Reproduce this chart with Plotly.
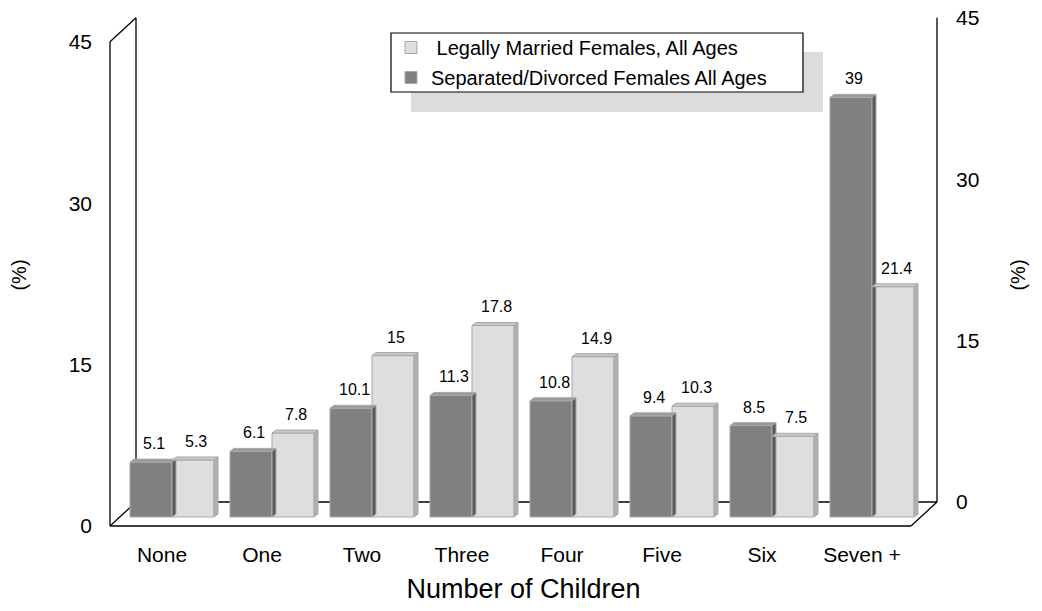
import plotly.graph_objects as go

# ---------------- data ----------------
categories = ["None", "One", "Two", "Three", "Four", "Five", "Six", "Seven +"]
married = [5.3, 7.8, 15, 17.8, 14.9, 10.3, 7.5, 21.4]
separated = [5.1, 6.1, 10.1, 11.3, 10.8, 9.4, 8.5, 39]
y_ticks = [0, 15, 30, 45]
name_married = " Legally Married Females, All Ages"
name_separated = "Separated/Divorced Females All Ages"

# ---------------- geometry (layout, page pixels) ----------------
W, H = 1042, 611
L, R, T, B = 100, 947, 10, 540          # plot area in pixels
PX_X = 100.0                             # pixels per category
PX_Y = 10.76                             # pixels per percent
C0 = 172                                 # pixel centre of first category pair
LABEL_SHIFT = 0.10                       # category labels sit slightly left
Y0 = 517                                 # pixel of bar base
XMIN, XMAX = (L - C0) / PX_X, (R - C0) / PX_X
YMIN, YMAX = -(B - Y0) / PX_Y, (Y0 - T) / PX_Y
FRONT = -(526 - Y0) / PX_Y               # front plane shift (main y units)
BACK = (Y0 - 502) / PX_Y                 # back plane shift
XF = (110 - C0) / PX_X                   # front-left frame x
XB = (937 - C0) / PX_X                   # back-right frame x
DXA = 26 / PX_X                          # frame depth in x
BW = 0.42                                # bar width
DX, DY = 4 / PX_X, 3 / PX_Y              # bar depth

DARK, LIGHT = "#808080", "#dedede"
FONT = "Liberation Sans, Arial, sans-serif"

idx = list(range(len(categories)))

fig = go.Figure()


def add_series(vals, offset, color, top_col, side_col, name, rank):
    fig.add_trace(go.Bar(
        x=idx, y=vals, width=BW, offset=offset, name=name, legendrank=rank,
        legendgroup=name,
        marker=dict(color=color, line=dict(color="#a8a8a8", width=1)),
        hoverinfo="skip"))
    tx, ty, sx, sy = [], [], [], []
    for i, v in zip(idx, vals):
        x0 = i + offset
        x1 = x0 + BW
        tx += [x0, x0 + DX, x1 + DX, x1, x0, None]
        ty += [v, v + DY, v + DY, v, v, None]
        sx += [x1, x1, x1 + DX, x1 + DX, x1, None]
        sy += [0, v, v + DY, DY, 0, None]
    fig.add_trace(go.Scatter(x=tx, y=ty, fill="toself", fillcolor=top_col, mode="lines",
                             line=dict(color="#a8a8a8", width=1), showlegend=False,
                             hoverinfo="skip"))
    fig.add_trace(go.Scatter(x=sx, y=sy, fill="toself", fillcolor=side_col, mode="lines",
                             line=dict(color="#a8a8a8", width=1), showlegend=False,
                             hoverinfo="skip"))
    for i, v in zip(idx, vals):
        fig.add_annotation(x=i + offset + BW / 2 + 0.03, y=v, text=f"{v:g}",
                           showarrow=False, yanchor="bottom", yshift=8,
                           font=dict(size=16, color="black", family=FONT))


add_series(separated, -BW, DARK, "#9a9a9a", "#5a5a5a", name_separated, 2)
add_series(married, 0, LIGHT, "#c8c8c8", "#b0b0b0", name_married, 1)

# invisible traces so the extra axes are drawn
fig.add_trace(go.Scatter(x=[XF] * len(y_ticks), y=y_ticks, yaxis="y2", mode="markers",
                         marker=dict(opacity=0), showlegend=False, hoverinfo="skip"))
fig.add_trace(go.Scatter(x=[XB] * len(y_ticks), y=y_ticks, yaxis="y3", mode="markers",
                         marker=dict(opacity=0), showlegend=False, hoverinfo="skip"))
fig.add_trace(go.Scatter(x=idx, y=[0] * len(idx), xaxis="x2", mode="markers",
                         marker=dict(opacity=0), showlegend=False, hoverinfo="skip"))

# frame lines
top = max(y_ticks)
frame = [
    (XF, FRONT, XF, top + FRONT),
    (XF + DXA, BACK, XF + DXA, top + BACK),
    (XF, top + FRONT, XF + DXA, top + BACK),
    (XF, FRONT, XF + DXA, BACK),
    (XF, FRONT, XB - DXA, FRONT),
    (XB - DXA, FRONT, XB, BACK),
    (XB, BACK, XB, top + BACK),
    (XF + DXA, BACK, XB, BACK),
]
for x0, y0, x1, y1 in frame:
    fig.add_shape(type="line", xref="x", yref="y", x0=x0, y0=y0, x1=x1, y1=y1,
                  line=dict(color="black", width=1.3), layer="below")


def px_x(p):
    return (p - L) / (R - L)


def px_y(p):
    return (B - p) / (B - T)


# legend shadow and box
fig.add_shape(type="rect", xref="paper", yref="paper",
              x0=px_x(411), x1=px_x(823), y0=px_y(112), y1=px_y(52),
              fillcolor="#dcdcdc", line=dict(width=0), layer="below")
fig.add_shape(type="rect", xref="paper", yref="paper",
              x0=px_x(391), x1=px_x(803), y0=px_y(92), y1=px_y(33),
              fillcolor="white", line=dict(color="black", width=1.2), layer="above")

axis_common = dict(showgrid=False, zeroline=False, showline=False, ticks="",
                   ticklabeloverflow="allow",
                   tickfont=dict(size=21, color="black", family=FONT))

fig.update_layout(
    width=W, height=H, autosize=False,
    margin=dict(l=L, r=W - R, t=T, b=H - B),
    plot_bgcolor="white", paper_bgcolor="white",
    barmode="overlay",
    font=dict(family=FONT, color="black"),
    showlegend=True,
    legend=dict(x=px_x(391), y=px_y(28), xanchor="left", yanchor="top",
                bgcolor="rgba(0,0,0,0)", borderwidth=0,
                font=dict(size=20, color="black", family=FONT),
                tracegroupgap=1, itemwidth=30),
    xaxis=dict(range=[XMIN, XMAX], showticklabels=False,
               title=dict(text=""), automargin=False, **axis_common),
    xaxis2=dict(range=[XMIN + LABEL_SHIFT, XMAX + LABEL_SHIFT], overlaying="x",
                side="bottom", anchor="y", tickvals=idx, ticktext=categories,
                title=dict(text="Number of Children", font=dict(size=27), standoff=14),
                automargin=False, **axis_common),
    yaxis=dict(range=[YMIN, YMAX], visible=False),
    yaxis2=dict(range=[YMIN - FRONT, YMAX - FRONT], overlaying="y", side="left",
                tickvals=y_ticks, ticklabelstandoff=7, automargin=False,
                title=dict(text="(%)", font=dict(size=20), standoff=36), **axis_common),
    yaxis3=dict(range=[YMIN - BACK, YMAX - BACK], overlaying="y", side="right",
                tickvals=y_ticks, ticklabelstandoff=8, automargin=False,
                title=dict(text="(%)", font=dict(size=20), standoff=32), **axis_common),
)

# remove the default 8px page margin so the figure fills the window exactly
fig.write_html("out.html", config={"displayModeBar": False},
               post_script="document.body.style.margin='0';document.body.style.overflow='hidden';")
